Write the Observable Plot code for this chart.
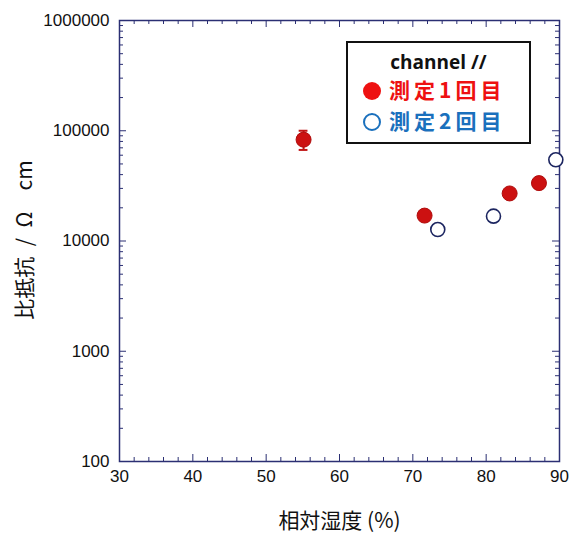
<!DOCTYPE html>
<html>
<head>
<meta charset="utf-8">
<script src="https://cdn.jsdelivr.net/npm/d3@7"></script>
<script src="https://cdn.jsdelivr.net/npm/@observablehq/plot@0.6"></script>
<style>
  html, body { margin: 0; padding: 0; background: #fff; }
  #wrap { position: relative; width: 569px; height: 537px; }
  #legend {
    position: absolute; left: 346px; top: 41px; width: 181px; height: 99px;
    border: 2px solid #111; background: #fff;
    font-family: "Noto Sans CJK JP", "Noto Sans", sans-serif; font-weight: bold;
  }
  #legend .title { position: absolute; left: 0; right: 0; top: 7px; text-align: center; font-size: 19px; color: #111; line-height: 24px; font-family: "Open Sans", "Noto Sans", sans-serif; }
  #legend .row { position: absolute; left: 15px; font-size: 21px; line-height: 26px; letter-spacing: 4px; white-space: nowrap; }
  #legend .r1 { top: 33px; color: #ee1111; }
  #legend .r2 { top: 64px; color: #1a70bd; }
  #legend .sym { display: inline-block; width: 18px; height: 18px; border-radius: 50%; box-sizing: border-box; vertical-align: -2px; margin-right: 8px; }
  #legend .r1 .sym { background: #ee1111; }
  #legend .r2 .sym { border: 2.5px solid #1a70bd; background: #fff; }
</style>
</head>
<body>
<div id="wrap"></div>
<script>
// ---- data ----
const series1Name = "測定1回目";
const series1X = [55.1, 71.6, 83.2, 87.2];
const series1Y = [83000, 17000, 27000, 33500];
const errorX = [55.1];
const errorLow = [67000];
const errorHigh = [100000];
const series2Name = "測定2回目";
const series2X = [73.4, 81.0, 89.5];
const series2Y = [12700, 16800, 54500];
const xMajorTicks = [30, 40, 50, 60, 70, 80, 90];
const xMinorTicks = [32, 34, 36, 38, 42, 44, 46, 48, 52, 54, 56, 58, 62, 64, 66, 68, 72, 74, 76, 78, 82, 84, 86, 88];
const yMajorTicks = [100, 1000, 10000, 100000, 1000000];
const yMinorTicks = [100, 1000, 10000, 100000].flatMap(d => [2, 3, 4, 5, 6, 7, 8, 9].map(m => d * m));
const xLabel = "相対湿度 (%)";
const yLabel = "比抵抗\u2002/\u2002Ω\u2002\u2002cm";
const legendTitle = "channel //";

const s1 = series1X.map((x, i) => ({x, y: series1Y[i]}));
const s2 = series2X.map((x, i) => ({x, y: series2Y[i]}));
const err = errorX.map((x, i) => ({x, lo: errorLow[i], hi: errorHigh[i]}));

const W = 569, H = 537, mL = 119, mR = 10, mT = 20, mB = 76;
const fw = W - mL - mR, fh = H - mT - mB;
const axisColor = "#2b2f73";
const majorLen = 7, minorLen = 4;

const plot = Plot.plot({
  width: W, height: H,
  marginLeft: mL, marginRight: mR, marginTop: mT, marginBottom: mB,
  style: {fontFamily: "'Liberation Sans', Arial, sans-serif", fontSize: "15px", color: "#111", background: "#fff"},
  x: {domain: [30, 90]},
  y: {type: "log", domain: [100, 1000000]},
  marks: [
    // inward ticks
    Plot.tickX(xMajorTicks, {x: d => d, stroke: axisColor, insetTop: fh - majorLen}),
    Plot.tickX(xMinorTicks, {x: d => d, stroke: axisColor, insetTop: fh - minorLen}),
    Plot.tickX(xMajorTicks, {x: d => d, stroke: axisColor, insetBottom: fh - majorLen}),
    Plot.tickX(xMinorTicks, {x: d => d, stroke: axisColor, insetBottom: fh - minorLen}),
    Plot.tickY(yMajorTicks, {y: d => d, stroke: axisColor, insetRight: fw - majorLen}),
    Plot.tickY(yMinorTicks, {y: d => d, stroke: axisColor, insetRight: fw - minorLen}),
    Plot.tickY(yMajorTicks, {y: d => d, stroke: axisColor, insetLeft: fw - majorLen}),
    Plot.tickY(yMinorTicks, {y: d => d, stroke: axisColor, insetLeft: fw - minorLen}),
    Plot.frame({stroke: axisColor, strokeWidth: 1.5}),
    Plot.axisX(xMajorTicks, {tickSize: 0, tickPadding: 8, label: null, fontSize: 17, fill: "#111"}),
    Plot.axisY(yMajorTicks, {tickSize: 0, tickPadding: 10, label: null, tickFormat: d3.format("d"), fontSize: 17, fill: "#111", style: "letter-spacing:0.6px"}),
    // error bar
    Plot.ruleX(err, {x: "x", y1: "lo", y2: "hi", stroke: "#c01515", strokeWidth: 2}),
    Plot.ruleY(err, {y: "lo", x1: d => d.x - 0.6, x2: d => d.x + 0.6, stroke: "#c01515", strokeWidth: 2}),
    Plot.ruleY(err, {y: "hi", x1: d => d.x - 0.6, x2: d => d.x + 0.6, stroke: "#c01515", strokeWidth: 2}),
    // series
    Plot.dot(s1, {x: "x", y: "y", r: 7.5, fill: "#cc1111", stroke: "#b00d0d", strokeWidth: 1}),
    Plot.dot(s2, {x: "x", y: "y", r: 7, fill: "#fff", stroke: "#1c2560", strokeWidth: 1.6}),
    // axis labels
    Plot.text([yLabel], {frameAnchor: "left", textAnchor: "middle", dx: -94, dy: -1, rotate: -90, text: d => d, fontSize: 21, fontFamily: "'Noto Sans CJK JP', sans-serif", fill: "#111"}),
    Plot.text([xLabel], {frameAnchor: "bottom", dy: 66, text: d => d, fontSize: 21, fontFamily: "'Noto Sans CJK JP', sans-serif", fill: "#111"})
  ]
});

const wrap = document.getElementById("wrap");
wrap.appendChild(plot);
const lg = document.createElement("div");
lg.id = "legend";
lg.innerHTML = `<div class="title"></div><div class="row r1"><span class="sym"></span><span class="t"></span></div><div class="row r2"><span class="sym"></span><span class="t"></span></div>`;
lg.querySelector(".title").textContent = legendTitle;
lg.querySelector(".r1 .t").textContent = series1Name;
lg.querySelector(".r2 .t").textContent = series2Name;
wrap.appendChild(lg);
</script>
</body>
</html>
